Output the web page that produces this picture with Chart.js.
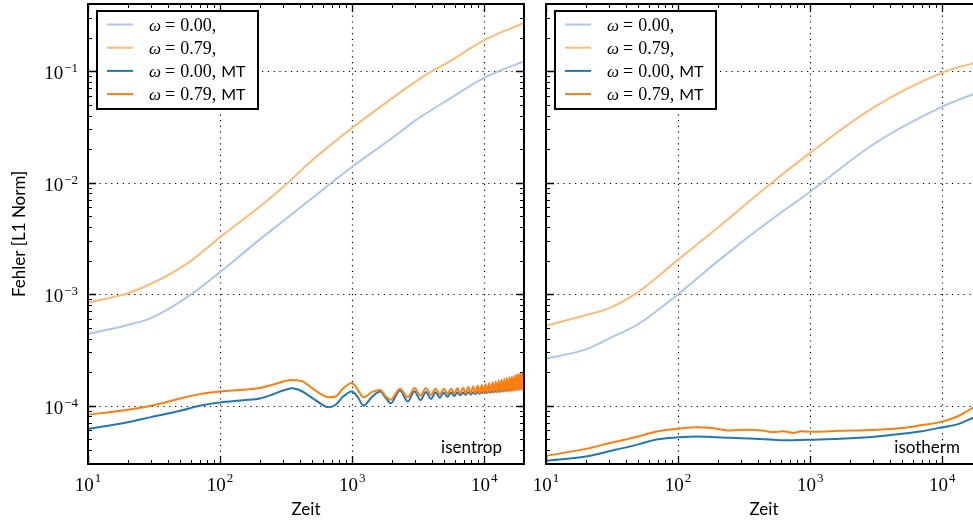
<!DOCTYPE html>
<html>
<head>
<meta charset="utf-8">
<script src="https://cdn.jsdelivr.net/npm/chart.js@4.4.1/dist/chart.umd.min.js"></script>
<style>
  html, body { margin: 0; padding: 0; background: #fff; overflow: hidden; }
  #wrap { position: relative; width: 973px; height: 522px; overflow: hidden; }
  canvas { position: absolute; top: 0; }
  #c-left { left: 0; }
  #c-right { left: 530px; }
</style>
</head>
<body>
<div id="wrap">
  <canvas id="c-left" width="530" height="522"></canvas>
  <canvas id="c-right" width="452" height="522"></canvas>
</div>
<script>
/* Fehlervergleich isentrop / isotherm — log-log, zwei Panels */

const X_MIN = 10, X_MAX = 20000;
const Y_MIN = 3e-5, Y_MAX = 0.4;
const X_MAJOR = [10, 100, 1000, 10000];
const Y_MAJOR = [1e-4, 1e-3, 1e-2, 1e-1];

const LABELS = ["ω = 0.00,", "ω = 0.79,", "ω = 0.00, MT", "ω = 0.79, MT"];
const COLORS = ["#aec7e8", "#ffbb78", "#1f77b4", "#ff7f0e"];

// isentrop, ohne MT
const T_ISEN = [10, 20, 30, 57, 100, 200, 327, 464, 1000, 2000, 3000, 4000, 5000, 10000, 20000];
const ISEN_W0 = [4.4e-4, 5.3e-4, 6.1e-4, 9.5e-4, 1.58e-3, 3.1e-3, 4.9e-3, 6.8e-3, 1.39e-2, 2.5e-2, 3.6e-2, 4.5e-2, 5.3e-2, 8.7e-2, 1.23e-1];
const ISEN_W79 = [8.4e-4, 1.02e-3, 1.24e-3, 1.9e-3, 3.25e-3, 6.1e-3, 1.0e-2, 1.48e-2, 3.1e-2, 5.7e-2, 8.0e-2, 1.0e-1, 1.15e-1, 1.9e-1, 2.7e-1];

// isentrop, MT (Extrema der Schwingung)
const T_ISEN_MT = [
  10, 20, 30, 50, 70, 100, 150, 200, 250, 300, 350, 420, 500, 580, 660, 750, 850, 993, 1100, 1220, 1420, 1630, 1800, 1960, 2300,
  2640, 2960, 3290, 3620, 3950, 4280, 4610, 4940, 5270, 5600,
  5930, 6260, 6590, 6920, 7250, 7580, 7910, 8240, 8570, 8900,
  9230, 9560, 9890, 10220, 10550, 10880, 11210, 11540, 11870, 12200,
  12530, 12860, 13190, 13520, 13850, 14180, 14510, 14840, 15170, 15500,
  15830, 16160, 16490, 16820, 17150, 17480, 17810, 18140, 18470, 18800,
  19130, 19460, 19790, 20000,
];
const ISEN_W0_MT = [
  6.2e-5, 7.1e-5, 7.9e-5, 9.0e-5, 1.0e-4, 1.07e-4, 1.12e-4, 1.16e-4, 1.26e-4, 1.37e-4, 1.43e-4, 1.34e-4, 1.17e-4, 1.04e-4, 9.7e-5, 1.02e-4, 1.2e-4, 1.34e-4, 1.2e-4, 1.0e-4, 1.21e-4, 1.34e-4, 1.17e-4, 1.05e-4, 1.37e-4,
  1.09e-4, 1.35e-4, 1.12e-4, 1.33e-4, 1.15e-4, 1.32e-4, 1.18e-4, 1.31e-4, 1.20e-4, 1.31e-4,
  1.22e-4, 1.31e-4, 1.24e-4, 1.31e-4, 1.25e-4, 1.32e-4, 1.26e-4, 1.32e-4, 1.27e-4, 1.33e-4,
  1.28e-4, 1.33e-4, 1.29e-4, 1.34e-4, 1.30e-4, 1.35e-4, 1.31e-4, 1.35e-4, 1.32e-4, 1.36e-4,
  1.33e-4, 1.37e-4, 1.34e-4, 1.38e-4, 1.35e-4, 1.39e-4, 1.36e-4, 1.40e-4, 1.37e-4, 1.41e-4,
  1.38e-4, 1.42e-4, 1.39e-4, 1.43e-4, 1.40e-4, 1.44e-4, 1.41e-4, 1.45e-4, 1.42e-4, 1.46e-4,
  1.43e-4, 1.47e-4, 1.44e-4, 1.47e-4,
];
const ISEN_W79_MT = [
  8.3e-5, 9.2e-5, 1.0e-4, 1.16e-4, 1.27e-4, 1.34e-4, 1.39e-4, 1.44e-4, 1.54e-4, 1.65e-4, 1.70e-4, 1.65e-4, 1.43e-4, 1.27e-4, 1.19e-4, 1.21e-4, 1.42e-4, 1.60e-4, 1.39e-4, 1.19e-4, 1.33e-4, 1.38e-4, 1.21e-4, 1.13e-4, 1.42e-4,
  1.19e-4, 1.44e-4, 1.23e-4, 1.43e-4, 1.25e-4, 1.42e-4, 1.26e-4, 1.42e-4, 1.27e-4, 1.42e-4,
  1.28e-4, 1.43e-4, 1.28e-4, 1.45e-4, 1.28e-4, 1.47e-4, 1.29e-4, 1.49e-4, 1.29e-4, 1.51e-4,
  1.29e-4, 1.53e-4, 1.30e-4, 1.56e-4, 1.30e-4, 1.59e-4, 1.31e-4, 1.62e-4, 1.31e-4, 1.65e-4,
  1.32e-4, 1.68e-4, 1.32e-4, 1.71e-4, 1.33e-4, 1.74e-4, 1.34e-4, 1.77e-4, 1.34e-4, 1.80e-4,
  1.35e-4, 1.83e-4, 1.36e-4, 1.86e-4, 1.36e-4, 1.89e-4, 1.37e-4, 1.92e-4, 1.38e-4, 1.95e-4,
  1.38e-4, 1.98e-4, 1.39e-4, 2.0e-4,
];

// isotherm, ohne MT
const T_ISOT = [10, 20, 30, 50, 100, 218, 464, 1000, 3000, 10000, 17200, 20000];
const ISOT_W0 = [2.64e-4, 3.2e-4, 4.0e-4, 5.4e-4, 1.0e-3, 2.15e-3, 4.3e-3, 8.3e-3, 2.2e-2, 4.8e-2, 6.2e-2, 6.6e-2];
const ISOT_W79 = [5.2e-4, 6.5e-4, 7.5e-4, 1.05e-3, 2.04e-3, 4.3e-3, 9.1e-3, 1.85e-2, 4.7e-2, 9.7e-2, 1.18e-1, 1.25e-1];

// isotherm, MT
const T_ISOT_MT = [10, 20, 30, 50, 70, 100, 138, 180, 248, 350, 450, 525, 620, 745, 850, 1000, 1690, 3200, 5000, 7000, 10000, 13000, 17200, 20000];
const ISOT_W0_MT = [3.2e-5, 3.5e-5, 3.9e-5, 4.5e-5, 5.0e-5, 5.2e-5, 5.3e-5, 5.25e-5, 5.15e-5, 5.07e-5, 5.0e-5, 4.95e-5, 4.9e-5, 4.9e-5, 4.92e-5, 4.95e-5, 5.05e-5, 5.3e-5, 5.6e-5, 5.9e-5, 6.4e-5, 6.8e-5, 7.8e-5, 8.2e-5];
const ISOT_W79_MT = [3.55e-5, 4.1e-5, 4.6e-5, 5.3e-5, 5.9e-5, 6.2e-5, 6.4e-5, 6.3e-5, 5.98e-5, 6.1e-5, 5.95e-5, 5.8e-5, 5.9e-5, 5.7e-5, 5.9e-5, 5.85e-5, 5.95e-5, 6.1e-5, 6.3e-5, 6.7e-5, 7.2e-5, 8.0e-5, 9.6e-5, 1.02e-4];

const SERIF = '"Liberation Serif", "DejaVu Serif", serif';
const SANS = 'Lato, "DejaVu Sans", sans-serif';

/* ── Hilfsfunktionen ── */
function logValues(min, max) {
  const out = [];
  for (let e = Math.floor(Math.log10(min)); e <= Math.ceil(Math.log10(max)); e++) {
    for (let k = 1; k < 10; k++) {
      const v = k * Math.pow(10, e);
      if (v >= min * 0.999 && v <= max * 1.001) out.push({ v, major: k === 1 });
    }
  }
  return out;
}

function powLabel(ctx, exp, x, y, align, supRise) {
  const base = "10";
  const sup = exp < 0 ? "\u2212" + -exp : String(exp);
  ctx.font = `19px ${SERIF}`;
  const wb = ctx.measureText(base).width;
  ctx.font = `13px ${SERIF}`;
  const ws = ctx.measureText(sup).width;
  const w = wb + ws + 1;
  const x0 = align === "right" ? x - w : x - w / 2;
  ctx.textAlign = "left";
  ctx.textBaseline = "alphabetic";
  ctx.font = `19px ${SERIF}`;
  ctx.fillText(base, x0, y);
  ctx.font = `13px ${SERIF}`;
  ctx.fillText(sup, x0 + wb + 1, y - supRise);
}

function legendText(ctx, label, x, y) {
  const m = label.match(/^ω = ([^,]+,)\s*(.*)$/);
  ctx.textAlign = "left";
  ctx.textBaseline = "alphabetic";
  ctx.font = `italic 17px ${SERIF}`;
  ctx.fillText("ω", x, y);
  let cx = x + ctx.measureText("ω").width + 4;
  ctx.font = `18px ${SERIF}`;
  ctx.fillText("=", cx, y);
  cx += ctx.measureText("=").width + 5;
  ctx.fillText(m[1], cx, y);
  cx += ctx.measureText(m[1]).width + 5;
  if (m[2]) {
    ctx.font = `16px ${SANS}`;
    ctx.fillText(m[2], cx, y);
  }
}

/* ── Plugin: Gitter, Rahmen, Ticks, Beschriftung, Legende ── */
const panelPlugin = {
  id: "panel",
  beforeDatasetsDraw(chart) {
    const { ctx, chartArea: a, scales } = chart;
    ctx.save();
    ctx.strokeStyle = "#000";
    ctx.lineWidth = 1.2;
    ctx.setLineDash([1.2, 4.6]);
    X_MAJOR.forEach((v) => {
      const px = Math.round(scales.x.getPixelForValue(v)) + 0.5;
      ctx.beginPath(); ctx.moveTo(px, a.top); ctx.lineTo(px, a.bottom); ctx.stroke();
    });
    Y_MAJOR.forEach((v) => {
      const py = Math.round(scales.y.getPixelForValue(v)) + 0.5;
      ctx.beginPath(); ctx.moveTo(a.left, py); ctx.lineTo(a.right, py); ctx.stroke();
    });
    ctx.restore();
  },
  afterDraw(chart, args, opts) {
    const { ctx, chartArea: a, scales } = chart;
    ctx.save();
    ctx.strokeStyle = "#000";
    ctx.fillStyle = "#000";

    // Ticks nach innen, alle vier Seiten
    logValues(X_MIN, X_MAX).forEach(({ v, major }) => {
      const px = Math.round(scales.x.getPixelForValue(v)) + 0.5;
      const len = major ? 8 : 4;
      ctx.lineWidth = major ? 1.3 : 1;
      ctx.beginPath();
      ctx.moveTo(px, a.bottom); ctx.lineTo(px, a.bottom - len);
      ctx.moveTo(px, a.top); ctx.lineTo(px, a.top + len);
      ctx.stroke();
    });
    logValues(Y_MIN, Y_MAX).forEach(({ v, major }) => {
      const py = Math.round(scales.y.getPixelForValue(v)) + 0.5;
      const len = major ? 8 : 4;
      ctx.lineWidth = major ? 1.3 : 1;
      ctx.beginPath();
      ctx.moveTo(a.left, py); ctx.lineTo(a.left + len, py);
      ctx.moveTo(a.right, py); ctx.lineTo(a.right - len, py);
      ctx.stroke();
    });

    // Rahmen
    ctx.lineWidth = 2;
    ctx.strokeRect(a.left, a.top, a.right - a.left, a.bottom - a.top);

    // Tick-Beschriftung
    X_MAJOR.forEach((v) => {
      powLabel(ctx, Math.round(Math.log10(v)), scales.x.getPixelForValue(v), a.bottom + 27, "center", 9);
    });
    if (opts.yLabels) {
      Y_MAJOR.forEach((v) => {
        powLabel(ctx, Math.round(Math.log10(v)), a.left - 10, scales.y.getPixelForValue(v) + 8, "right", 7);
      });
    }

    // Achsentitel
    ctx.font = `17px ${SANS}`;
    ctx.textAlign = "center";
    ctx.textBaseline = "alphabetic";
    ctx.fillText("Zeit", (a.left + a.right) / 2, a.bottom + 51);
    if (opts.yTitle) {
      ctx.save();
      ctx.translate(25, (a.top + a.bottom) / 2);
      ctx.rotate(-Math.PI / 2);
      ctx.fillText(opts.yTitle, 0, 0);
      ctx.restore();
    }

    // Panel-Notiz
    ctx.font = `17px ${SANS}`;
    ctx.textAlign = "right";
    ctx.fillText(opts.note, a.right - 22, a.bottom - 11);

    // Legende
    const bx = a.left + 9, by = a.top + 7, bw = 161, bh = 98;
    ctx.fillStyle = "#fff";
    ctx.fillRect(bx, by, bw, bh);
    ctx.lineWidth = 2;
    ctx.strokeRect(bx, by, bw, bh);
    chart.data.datasets.forEach((ds, i) => {
      const ry = by + 13.5 + i * 23.2;
      ctx.strokeStyle = ds.borderColor;
      ctx.lineWidth = 2;
      ctx.beginPath(); ctx.moveTo(bx + 10, ry); ctx.lineTo(bx + 36, ry); ctx.stroke();
      ctx.fillStyle = "#000";
      legendText(ctx, ds.label, bx + 52, ry + 6);
    });
    ctx.restore();
  },
};

function mkSet(i, xs, ys, order) {
  return {
    label: LABELS[i],
    data: xs.map((x, k) => ({ x, y: ys[k] })),
    borderColor: COLORS[i],
    backgroundColor: COLORS[i],
    borderWidth: 2,
    pointRadius: 0,
    fill: false,
    cubicInterpolationMode: "monotone",
    order,
  };
}

function makeChart(id, sets, panelOpts, padding) {
  return new Chart(document.getElementById(id), {
    type: "line",
    data: { datasets: sets },
    options: {
      responsive: false,
      animation: false,
      devicePixelRatio: 1,
      layout: { padding },
      plugins: { legend: { display: false }, tooltip: { enabled: false }, panel: panelOpts },
      scales: {
        x: { type: "logarithmic", min: X_MIN, max: X_MAX, display: false },
        y: { type: "logarithmic", min: Y_MIN, max: Y_MAX, display: false },
      },
    },
    plugins: [panelPlugin],
  });
}

makeChart(
  "c-left",
  [
    mkSet(0, T_ISEN, ISEN_W0, 3),
    mkSet(1, T_ISEN, ISEN_W79, 2),
    mkSet(2, T_ISEN_MT, ISEN_W0_MT, 1),
    mkSet(3, T_ISEN_MT, ISEN_W79_MT, 0),
  ],
  { note: "isentrop", yLabels: true, yTitle: "Fehler [L1 Norm]" },
  { left: 88, right: 6, top: 4, bottom: 58 }
);

makeChart(
  "c-right",
  [
    mkSet(0, T_ISOT, ISOT_W0, 3),
    mkSet(1, T_ISOT, ISOT_W79, 2),
    mkSet(2, T_ISOT_MT, ISOT_W0_MT, 1),
    mkSet(3, T_ISOT_MT, ISOT_W79_MT, 0),
  ],
  { note: "isotherm", yLabels: false, yTitle: "" },
  { left: 16, right: 0, top: 4, bottom: 58 }
);
</script>
</body>
</html>
